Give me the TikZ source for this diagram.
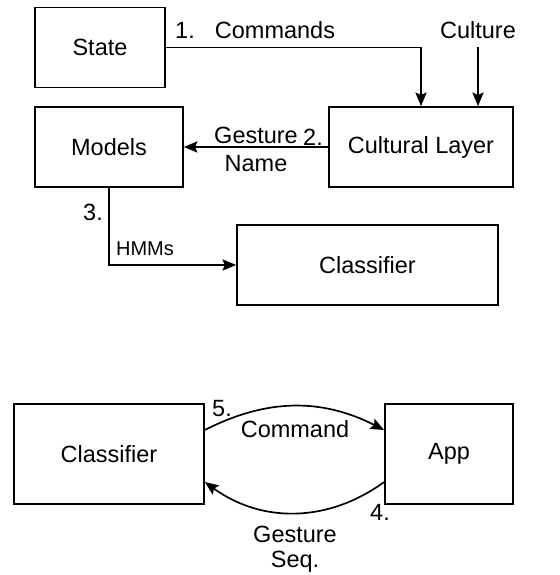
\documentclass[tikz,border=0pt]{standalone}
\usepackage{fontspec}
\setmainfont{Liberation Sans}
\usetikzlibrary{arrows.meta}
\begin{document}
\begin{tikzpicture}[x = 0.025cm, y = 0.025cm, line width = 1.2pt,
	font = \fontsize{16.7}{19}\selectfont,
	box/.style = {draw, inner sep = 0pt, minimum height = 2cm},
	arr/.style = {-{Stealth[length = 0.34cm, width = 0.28cm, inset = 0.06cm]}},
	lbl/.style = {inner sep = 0pt}]
\useasboundingbox (0,0) rectangle (560,575);
\node[box, minimum width = 3.25cm] (state) at (100,527.5) {State};
\node[box, minimum width = 3.7cm] (models) at (109,428) {Models};
\node[box, minimum width = 4.6cm] (layer) at (421,428) {Cultural Layer};
\node[box, minimum width = 6.525cm] (cls) at (367.5,310) {Classifier};
\node[box, minimum width = 4.75cm, minimum height = 2.5cm] (clsb) at (109,121) {Classifier};
\node[box, minimum width = 3.2cm, minimum height = 2.5cm] (app) at (449,121) {App};
\node[lbl] (culture) at (478,545) {Culture};
\coordinate (cultop) at ([yshift = -0.2cm]culture.south);
\draw[arr] (state) -| (layer);
\node[lbl] at (185,545) {1.};
\node[lbl] at (275,545) {Commands};
\draw[arr] (cultop) -- (cultop |- layer.north);
\draw[arr] (layer) -- (models)
	node[pos = 0.5, above, inner sep = 2pt] {Gesture}
	node[pos = 0.5, below, inner sep = 5pt] {Name};
\node[lbl] at (313,438) {2.};
\draw[arr] (models) |- (cls);
\node[lbl] at (93,363) {3.};
\node[lbl, font = \fontsize{14.2}{16}\selectfont] at (145,326) {HMMs};
\draw[arr] ([yshift = 0.6cm]clsb.east) to[bend left = 27] ([yshift = 0.6cm]app.west);
\node[lbl] at (222,166) {5.};
\node[lbl] at (295,146) {Command};
\draw[arr] ([yshift = -0.7cm]app.west) to[bend left = 36] ([yshift = -0.7cm]clsb.east);
\node[lbl] at (380,63) {4.};
\node[lbl] at (295,41) {Gesture};
\node[lbl] at (295,13) {Seq.};
\end{tikzpicture}
\end{document}
